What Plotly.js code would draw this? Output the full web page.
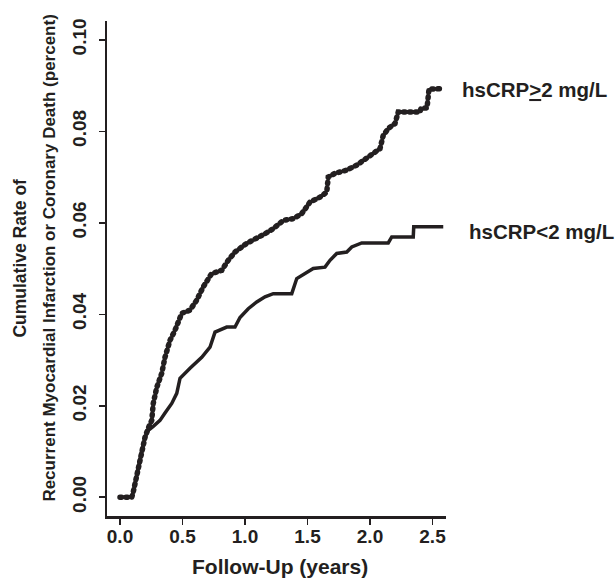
<!DOCTYPE html>
<html>
<head>
<meta charset="utf-8">
<script src="https://cdn.plot.ly/plotly-3.0.1.min.js"></script>
<style>
  html, body { margin: 0; padding: 0; background: #fff; }
  #chart { width: 616px; height: 578px; }
  .beaded path.js-line { stroke-linecap: round !important; }
</style>
</head>
<body>
<div id="chart"></div>
<script>
// Follow-up (years) and cumulative rate, hsCRP >= 2 mg/L
const highX = [0, 0.094, 0.104, 0.134, 0.174, 0.2, 0.226, 0.254, 0.266, 0.294, 0.334, 0.36, 0.40, 0.44, 0.494, 0.56, 0.614, 0.666, 0.734, 0.814, 0.866, 0.92, 1.014, 1.094, 1.16, 1.226, 1.306, 1.386, 1.454, 1.52, 1.6, 1.654, 1.666, 1.72, 1.814, 1.894, 1.974, 2.026, 2.08, 2.106, 2.146, 2.2, 2.226, 2.4, 2.408, 2.456, 2.472, 2.568];
const highY = [0, 0, 0.0009, 0.0052, 0.0103, 0.0131, 0.0151, 0.0168, 0.0205, 0.024, 0.0271, 0.0306, 0.0343, 0.0365, 0.0402, 0.0409, 0.0431, 0.046, 0.0489, 0.0496, 0.0518, 0.0536, 0.0555, 0.0565, 0.0576, 0.0587, 0.0605, 0.0609, 0.062, 0.0645, 0.0656, 0.0667, 0.070, 0.0708, 0.0715, 0.0726, 0.074, 0.0751, 0.0762, 0.0791, 0.0806, 0.0817, 0.0842, 0.0842, 0.085, 0.0851, 0.0892, 0.0893];

// Follow-up (years) and cumulative rate, hsCRP < 2 mg/L
const lowX = [0, 0.094, 0.104, 0.134, 0.174, 0.2, 0.226, 0.266, 0.32, 0.36, 0.414, 0.454, 0.48, 0.56, 0.654, 0.72, 0.76, 0.854, 0.92, 0.96, 1.026, 1.094, 1.16, 1.226, 1.374, 1.414, 1.454, 1.506, 1.546, 1.64, 1.68, 1.734, 1.814, 1.854, 1.934, 2.146, 2.174, 2.346, 2.35, 2.586];
const lowY = [0, 0, 0.0009, 0.0052, 0.0103, 0.0131, 0.0146, 0.0155, 0.0168, 0.0184, 0.0205, 0.0227, 0.026, 0.0282, 0.0306, 0.0328, 0.0361, 0.0372, 0.0372, 0.0393, 0.0412, 0.0427, 0.0438, 0.0445, 0.0445, 0.0478, 0.0485, 0.0492, 0.05, 0.0503, 0.0518, 0.0533, 0.0536, 0.0547, 0.0556, 0.0556, 0.0569, 0.0569, 0.0591, 0.0591];

const xTicks = [0, 0.5, 1.0, 1.5, 2.0, 2.5];
const xTickText = ["0.0", "0.5", "1.0", "1.5", "2.0", "2.5"];
const yTicks = [0, 0.02, 0.04, 0.06, 0.08, 0.10];
const yTickText = ["0.00", "0.02", "0.04", "0.06", "0.08", "0.10"];

const seriesLabels = ["hsCRP<u>&gt;</u>2 mg/L", "hsCRP&lt;2 mg/L"];
const xTitle = "Follow-Up (years)";
const yTitleLines = ["Cumulative Rate of", "Recurrent Myocardial Infarction or Coronary Death (percent)"];

const INK = "#231f20";
const FONT = "Liberation Sans, Arial, Helvetica, sans-serif";

const traces = [
  {
    x: lowX, y: lowY, type: "scatter", mode: "lines",
    line: { color: INK, width: 3.5, shape: "linear" },
    hoverinfo: "skip", showlegend: false
  },
  {
    x: highX, y: highY, type: "scatter", mode: "lines",
    line: { color: INK, width: 5.5, dash: "1.5px,4.5px", shape: "linear" },
    hoverinfo: "skip", showlegend: false
  }
];

const axisFont = { family: FONT, size: 19, color: INK, weight: "bold" };

const layout = {
  width: 616, height: 578,
  margin: { l: 107, r: 170, t: 21, b: 62, pad: 0 },
  paper_bgcolor: "#ffffff", plot_bgcolor: "#ffffff",
  showlegend: false,
  xaxis: {
    range: [-0.104, 2.608],
    tickvals: xTicks, ticktext: xTickText,
    showline: true, linecolor: INK, linewidth: 2.5,
    ticks: "outside", ticklen: 6, tickwidth: 1.5, tickcolor: INK,
    showgrid: false, zeroline: false,
    tickfont: axisFont, ticklabelstandoff: -4,
    fixedrange: true
  },
  yaxis: {
    range: [-0.0041, 0.1041],
    tickvals: yTicks, ticktext: yTickText,
    showline: true, linecolor: INK, linewidth: 2.5,
    ticks: "outside", ticklen: 6, tickwidth: 1.5, tickcolor: INK,
    showgrid: false, zeroline: false,
    tickangle: -90,
    tickfont: axisFont, ticklabelstandoff: 5,
    fixedrange: true
  },
  annotations: [
    { text: xTitle, xref: "paper", yref: "paper", x: 0.509, y: -0.103,
      xanchor: "center", yanchor: "middle", showarrow: false,
      font: { family: FONT, size: 21, color: INK, weight: "bold" } },
    { text: yTitleLines[0], xref: "paper", yref: "paper", x: -0.2552, y: 0.521,
      xanchor: "center", yanchor: "middle", textangle: -90, showarrow: false,
      font: { family: FONT, size: 17.5, color: INK, weight: "bold" } },
    { text: yTitleLines[1], xref: "paper", yref: "paper", x: -0.1696, y: 0.521,
      xanchor: "center", yanchor: "middle", textangle: -90, showarrow: false,
      font: { family: FONT, size: 17, color: INK, weight: "bold" } },
    { text: seriesLabels[0], xref: "paper", yref: "paper", x: 1.041, y: 0.861,
      xanchor: "left", yanchor: "middle", showarrow: false,
      font: { family: FONT, size: 20.5, color: INK, weight: "bold" } },
    { text: seriesLabels[1], xref: "paper", yref: "paper", x: 1.062, y: 0.574,
      xanchor: "left", yanchor: "middle", showarrow: false,
      font: { family: FONT, size: 20.5, color: INK, weight: "bold" } }
  ]
};

Plotly.newPlot("chart", traces, layout, { displayModeBar: false, staticPlot: true }).then(function () {
  const tr = document.querySelectorAll("#chart .scatterlayer .trace");
  if (tr.length > 1) tr[1].classList.add("beaded");
});
</script>
</body>
</html>
